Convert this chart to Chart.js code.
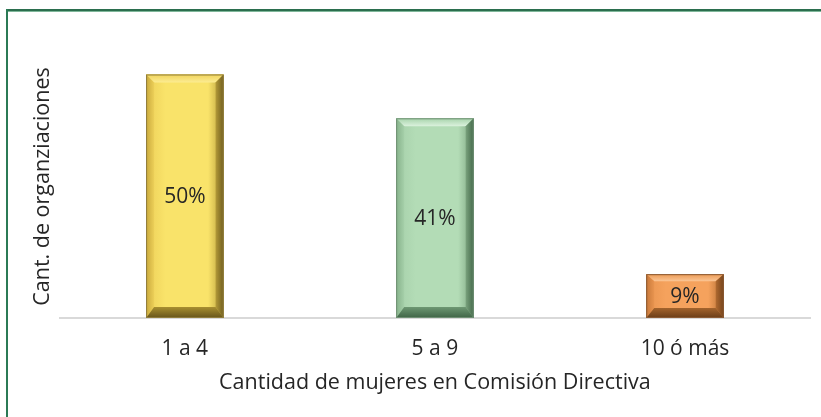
<!DOCTYPE html>
<html lang="es">
<head>
    <meta charset="UTF-8">
    <title>Cantidad de mujeres en Comisión Directiva</title>
    <script src="https://cdn.jsdelivr.net/npm/chart.js"></script>
    <style>
        html, body { margin: 0; padding: 0; background: #fff; }
        #wrap { position: relative; width: 821px; height: 417px; overflow: hidden; }
        .frame-top { position: absolute; left: 6px; top: 9px; right: 0; height: 2px; background: #2b6e4e; }
        .frame-top2 { position: absolute; left: 8px; top: 11px; right: 0; height: 1px; background: #7fb79a; }
        .frame-left { position: absolute; left: 6px; top: 9px; bottom: 0; width: 2px; background: #2b7a55; }
        canvas { position: absolute; left: 0; top: 0; }
    </style>
</head>
<body>
<div id="wrap">
    <div class="frame-top"></div>
    <div class="frame-top2"></div>
    <div class="frame-left"></div>
    <canvas id="grafico" width="821" height="417"></canvas>
</div>

<script>
// Datos del gráfico
const categorias = ["1 a 4", "5 a 9", "10 ó más"];
const porcentajes = [50, 41, 9];
const etiquetas = ["50%", "41%", "9%"];

// Colores de cada barra: cara, bisel superior (exterior/interior), izquierdo, derecho e inferior
const colores = [
    { cara: "#f9e36a", supA: "#f0d35a", supB: "#fcec92", izqA: "#c9a93c", izqB: "#eccf58",
      derA: "#6f5d1f", derB: "#b39a38", abA: "#66541b", abB: "#a88f30", borde: "#8f7c3c" },
    { cara: "#b3dcb6", supA: "#a6d3aa", supB: "#dcf2de", izqA: "#86b28a", izqB: "#a5cfa9",
      derA: "#44694a", derB: "#79a27d", abA: "#3f6446", abB: "#6e9873", borde: "#6f8f73" },
    { cara: "#f5a25d", supA: "#eb9a55", supB: "#fbc594", izqA: "#c7783a", izqB: "#e8944f",
      derA: "#74431c", derB: "#b06a30", abA: "#6a3d18", abB: "#a4642d", borde: "#8a5a34" }
];

const fuente = "'Open Sans', 'Noto Sans', sans-serif";

// Plugin para dibujar el efecto biselado y los porcentajes
const biselPlugin = {
    id: "bisel",
    afterDatasetsDraw(chart) {
        const ctx = chart.ctx;
        const meta = chart.getDatasetMeta(0);
        meta.data.forEach((bar, i) => {
            const c = colores[i];
            const x0 = bar.x - bar.width / 2;
            const x1 = bar.x + bar.width / 2;
            const y0 = bar.y;
            const y1 = bar.base;
            const h = y1 - y0;
            const bt = Math.min(8, h * 0.16);
            const bb = Math.min(11, h * 0.23);
            const bs = 8;

            ctx.save();
            // cara
            const g = ctx.createLinearGradient(x0, 0, x1, 0);
            g.addColorStop(0, c.izqB);
            g.addColorStop(0.25, c.cara);
            g.addColorStop(0.8, c.cara);
            g.addColorStop(1, c.derB);
            ctx.fillStyle = g;
            ctx.fillRect(x0, y0, x1 - x0, h);

            const poly = (pts, color) => {
                ctx.beginPath();
                ctx.moveTo(pts[0][0], pts[0][1]);
                for (let k = 1; k < pts.length; k++) ctx.lineTo(pts[k][0], pts[k][1]);
                ctx.closePath();
                ctx.fillStyle = color;
                ctx.fill();
            };
            const lin = (ax, ay, bx, by, a, b) => {
                const gr = ctx.createLinearGradient(ax, ay, bx, by);
                gr.addColorStop(0, a);
                gr.addColorStop(1, b);
                return gr;
            };
            // superior
            poly([[x0, y0], [x1, y0], [x1 - bs, y0 + bt], [x0 + bs, y0 + bt]],
                lin(0, y0, 0, y0 + bt, c.supA, c.supB));
            // izquierdo
            poly([[x0, y0], [x0 + bs, y0 + bt], [x0 + bs, y1 - bb], [x0, y1]],
                lin(x0, 0, x0 + bs, 0, c.izqA, c.izqB));
            // derecho
            poly([[x1, y0], [x1 - bs, y0 + bt], [x1 - bs, y1 - bb], [x1, y1]],
                lin(x1, 0, x1 - bs, 0, c.derA, c.derB));
            // inferior
            poly([[x0, y1], [x1, y1], [x1 - bs, y1 - bb], [x0 + bs, y1 - bb]],
                lin(0, y1, 0, y1 - bb, c.abA, c.abB));

            ctx.strokeStyle = c.borde;
            ctx.lineWidth = 1;
            ctx.strokeRect(x0 + 0.5, y0 + 0.5, x1 - x0 - 1, h - 1);

            // etiqueta
            ctx.fillStyle = "#262626";
            ctx.font = "21px " + fuente;
            ctx.textAlign = "center";
            ctx.textBaseline = "middle";
            ctx.fillText(etiquetas[i], bar.x, (y0 + y1) / 2 + 1);
            ctx.restore();
        });
    }
};

new Chart(document.getElementById("grafico"), {
    type: "bar",
    data: {
        labels: categorias,
        datasets: [{
            data: porcentajes,
            backgroundColor: colores.map(c => c.cara),
            categoryPercentage: 1,
            barPercentage: 0.31
        }]
    },
    options: {
        responsive: false,
        animation: false,
        events: [],
        layout: { padding: { top: 55, left: 30, right: 11, bottom: 21 } },
        plugins: { legend: { display: false }, tooltip: { enabled: false } },
        scales: {
            x: {
                grid: { display: false, drawTicks: false },
                border: { display: true, color: "#d9d9d9", width: 2 },
                ticks: { color: "#262626", padding: 18, font: { family: fuente, size: 21 } },
                title: {
                    display: true,
                    text: "Cantidad de mujeres en Comisión Directiva",
                    color: "#262626",
                    padding: { top: -9, bottom: 0 },
                    font: { family: fuente, size: 21.5 }
                }
            },
            y: {
                min: 0,
                max: 54,
                grid: { display: false, drawTicks: false },
                border: { display: false },
                ticks: { display: false },
                title: {
                    display: true,
                    text: "Cant. de organziaciones",
                    color: "#262626",
                    padding: { top: 0, bottom: 4 },
                    font: { family: fuente, size: 21.5 }
                }
            }
        }
    },
    plugins: [biselPlugin]
});
</script>
</body>
</html>
